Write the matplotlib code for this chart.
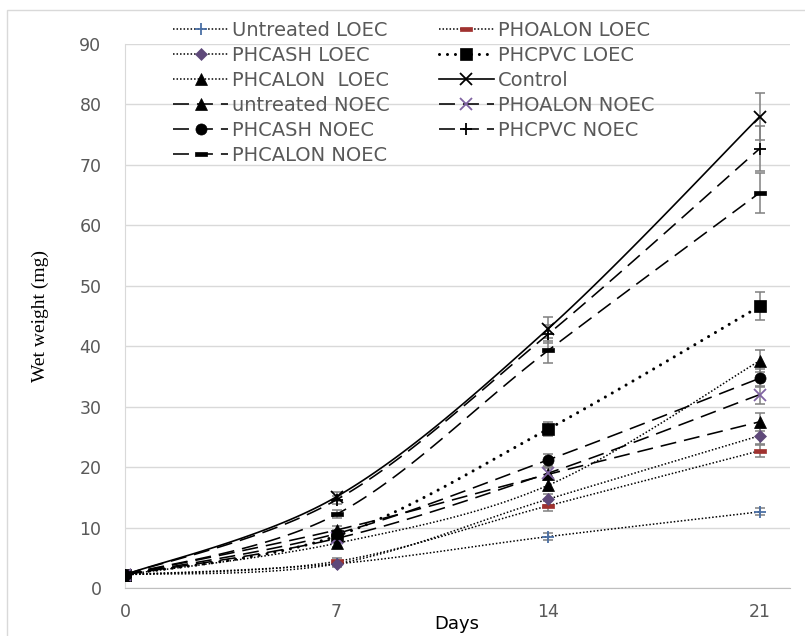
import numpy as np
import matplotlib.pyplot as plt
from matplotlib.lines import Line2D
from matplotlib.patches import Rectangle

# Data (wet weight, mg)
days = [0, 7, 14, 21]

untreated_loec = [2.2, 4.0, 8.5, 12.6]
phoalon_loec = [2.2, 4.4, 13.6, 22.7]
phcash_loec = [2.2, 4.0, 14.7, 25.2]
phcpvc_loec = [2.2, 8.6, 26.3, 46.6]
phcalon_loec = [2.2, 7.4, 17.0, 37.6]
control = [2.2, 15.1, 42.9, 78.0]
untreated_noec = [2.2, 9.6, 18.8, 27.5]
phoalon_noec = [2.2, 8.2, 19.0, 32.0]
phcash_noec = [2.2, 9.0, 21.2, 34.7]
phcpvc_noec = [2.2, 14.6, 42.0, 72.7]
phcalon_noec = [2.2, 12.2, 39.3, 65.4]

# error bars
err_untreated_loec = [0.3, 0.4, 0.6, 0.6]
err_phoalon_loec = [0.3, 0.5, 0.8, 1.0]
err_phcash_loec = [0.3, 0.5, 0.9, 1.3]
err_phcpvc_loec = [0.3, 0.6, 1.2, 2.3]
err_phcalon_loec = [0.3, 0.6, 1.0, 1.8]
err_control = [0.3, 0.7, 2.0, 3.9]
err_untreated_noec = [0.3, 0.6, 1.0, 1.5]
err_phoalon_noec = [0.3, 0.6, 1.0, 1.5]
err_phcash_noec = [0.3, 0.6, 1.0, 1.5]
err_phcpvc_noec = [0.3, 0.7, 1.5, 3.7]
err_phcalon_noec = [0.3, 0.7, 2.0, 3.3]

labels = ["Untreated LOEC", "PHOALON LOEC", "PHCASH LOEC", "PHCPVC LOEC",
          "PHCALON  LOEC", "Control", "untreated NOEC", "PHOALON NOEC",
          "PHCASH NOEC", "PHCPVC NOEC", "PHCALON NOEC"]

values = [untreated_loec, phoalon_loec, phcash_loec, phcpvc_loec, phcalon_loec,
          control, untreated_noec, phoalon_noec, phcash_noec, phcpvc_noec, phcalon_noec]
errors = [err_untreated_loec, err_phoalon_loec, err_phcash_loec, err_phcpvc_loec,
          err_phcalon_loec, err_control, err_untreated_noec, err_phoalon_noec,
          err_phcash_noec, err_phcpvc_noec, err_phcalon_noec]

dot = (0, (1, 1.3))
bigdot = (0, (0.01, 2.6))
dash = (0, (10, 5))
bar = [(-1, -0.28), (1, -0.28), (1, 0.28), (-1, 0.28), (-1, -0.28)]

# line style, line width, marker, marker size, marker colour
styles = [
    (dot, 1.1, "+", 9, "#4a6fa5"),
    (dot, 1.1, bar, 8, "#a0322f"),
    (dot, 1.1, "D", 6.5, "#5f497a"),
    (bigdot, 2.2, "s", 8, "black"),
    (dot, 1.1, "^", 8, "black"),
    ("-", 1.2, "x", 9, "black"),
    (dash, 1.15, "^", 8, "black"),
    (dash, 1.15, "x", 9, "#8064a2"),
    (dash, 1.15, "o", 8, "black"),
    (dash, 1.15, "+", 9, "black"),
    (dash, 1.15, bar, 8, "black"),
]


def smooth(x, y, n=40):
    # Excel style smoothed line: Catmull-Rom bezier through the points
    p = np.column_stack([x, y]).astype(float)
    p = np.vstack([p[:1], p, p[-1:]])
    t = np.linspace(0, 1, n)[:, None]
    out = []
    for i in range(1, len(p) - 2):
        p0, p1, p2, p3 = p[i - 1], p[i], p[i + 1], p[i + 2]
        c1 = p1 + (p2 - p0) / 6
        c2 = p2 - (p3 - p1) / 6
        seg = ((1 - t) ** 3) * p1 + 3 * ((1 - t) ** 2) * t * c1 + 3 * (1 - t) * t ** 2 * c2 + t ** 3 * p2
        out.append(seg)
    out = np.vstack(out)
    return out[:, 0], out[:, 1]


fig = plt.figure(figsize=(8.05, 6.36), dpi=100)
ax = fig.add_axes([125 / 805, 48 / 636, 665 / 805, 544 / 636])

fig.patches.append(Rectangle((7 / 805, -0.1), 1.1, 1.1 - 10 / 636, transform=fig.transFigure,
                             fill=False, edgecolor="#d9d9d9", linewidth=1))

handles = []
for lab, vals, err, st in zip(labels, values, errors, styles):
    ls, lw, mk, ms, mc = st
    cap = "round" if ls is bigdot else "butt"
    ax.errorbar(days, vals, yerr=err, fmt="none", ecolor="#808080",
                elinewidth=1.1, capsize=3.5, capthick=1.1, zorder=2)
    sx, sy = smooth(days, vals)
    ax.plot(sx, sy, color="black", linestyle=ls, linewidth=lw,
            dash_capstyle=cap, zorder=3)
    mew = 1.3 if mk in ("+", "x") else 0.5
    ax.plot(days, vals, linestyle="none", marker=mk, markersize=ms,
            color=mc, markeredgecolor=mc, markeredgewidth=mew, zorder=4)
    handles.append(Line2D([], [], color="black", linestyle=ls, linewidth=lw,
                          dash_capstyle=cap, marker=mk, markersize=ms,
                          markerfacecolor=mc, markeredgecolor=mc,
                          markeredgewidth=mew, label=lab))

ax.set_xlim(0, 22)
ax.set_ylim(0, 90)
ax.set_xticks(days)
ax.set_yticks(range(0, 91, 10))
ax.grid(axis="y", color="#d9d9d9", linewidth=1)
ax.set_axisbelow(True)
for s in ["top", "right"]:
    ax.spines[s].set_visible(False)
ax.spines["left"].set_color("#d9d9d9")
ax.spines["bottom"].set_color("#bfbfbf")
ax.tick_params(length=0, labelcolor="#595959", labelsize=12.5)
ax.tick_params(axis="y", pad=17)
ax.tick_params(axis="x", pad=11)

ax.set_ylabel("Wet weight (mg)", family="Liberation Serif", fontsize=14)
ax.yaxis.set_label_coords(-0.115, 0.5)
fig.text(457 / 805, 1 - 624 / 636, "Days", fontsize=13, ha="center", va="center")

# Excel legend fills row by row, matplotlib column by column
order = [0, 2, 4, 6, 8, 10, 1, 3, 5, 7, 9]
leg = fig.legend([handles[i] for i in order], [labels[i] for i in order],
                 ncol=2, loc="upper left", bbox_to_anchor=(173 / 805, 1 - 20.5 / 636),
                 frameon=False, prop={"size": 14},
                 handlelength=2.85, handletextpad=0.2, columnspacing=2.5,
                 labelspacing=0.31, numpoints=1, borderpad=0, borderaxespad=0)
for t in leg.get_texts():
    t.set_color("#595959")

fig.savefig("out.png", dpi=100)
